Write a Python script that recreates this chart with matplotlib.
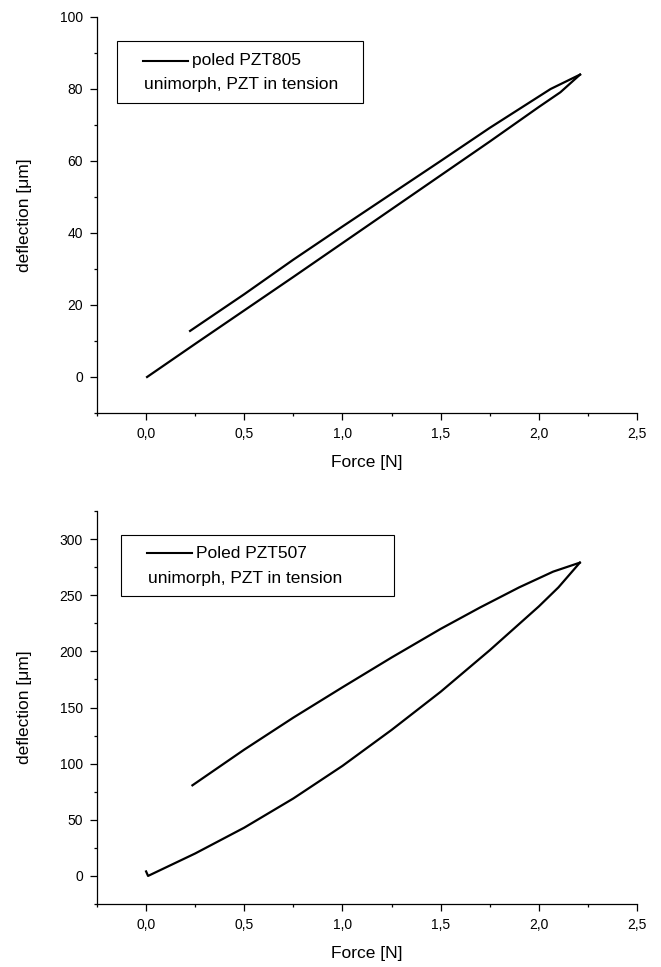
import numpy as np
import matplotlib
matplotlib.use('Agg')
from matplotlib import pyplot as plt
from matplotlib.lines import Line2D
from matplotlib.patches import Rectangle
from matplotlib.ticker import MultipleLocator

plt.rcParams['font.family'] = ['Liberation Sans', 'DejaVu Sans']

# PZT805 - loading and unloading branches
force_805_up = [0.005, 0.25, 0.5, 0.75, 1.0, 1.25, 1.5, 1.75, 2.0, 2.11, 2.21]
defl_805_up = [0.0, 9.2, 18.5, 27.8, 37.2, 46.6, 56.0, 65.4, 75.0, 79.1, 84.0]
force_805_down = [2.21, 2.06, 1.75, 1.5, 1.25, 1.0, 0.75, 0.5, 0.224]
defl_805_down = [84.0, 80.0, 69.2, 60.0, 50.9, 41.8, 32.6, 23.0, 12.8]

# PZT507 - loading and unloading branches
force_507_up = [0.0, 0.01, 0.25, 0.5, 0.75, 1.0, 1.25, 1.5, 1.75, 2.0, 2.1, 2.209]
defl_507_up = [4.0, 0.0, 20.0, 43.0, 69.0, 98.0, 130.0, 164.0, 201.0, 240.0, 257.0, 279.0]
force_507_down = [2.209, 2.073, 1.9, 1.7, 1.5, 1.25, 1.0, 0.75, 0.5, 0.236]
defl_507_down = [279.0, 271.0, 257.0, 239.0, 220.0, 194.5, 168.0, 141.0, 112.5, 80.7]

xticks = [0.0, 0.5, 1.0, 1.5, 2.0, 2.5]
xtick_labels = ['0,0', '0,5', '1,0', '1,5', '2,0', '2,5']

W, H = 661, 967
fig = plt.figure(figsize=(W / 100, H / 100), dpi=100)


def px_axes(left, top, right, bottom):
    return fig.add_axes([left / W, 1 - bottom / H, (right - left) / W, (bottom - top) / H])


def style(ax, ylim, ymajor, yminor):
    ax.set_xlim(-0.25, 2.5)
    ax.set_ylim(*ylim)
    ax.spines['top'].set_visible(False)
    ax.spines['right'].set_visible(False)
    for s in ('left', 'bottom'):
        ax.spines[s].set_linewidth(0.9)
    ax.set_xticks(xticks)
    ax.set_xticklabels(xtick_labels)
    ax.xaxis.set_minor_locator(MultipleLocator(0.25))
    ax.yaxis.set_major_locator(MultipleLocator(ymajor))
    ax.yaxis.set_minor_locator(MultipleLocator(yminor))
    ax.tick_params(which='major', direction='out', length=5, width=0.9, labelsize=10, pad=5)
    ax.tick_params(which='minor', direction='out', length=2.5, width=0.9)
    ax.set_xlabel('Force [N]', fontsize=12.5, labelpad=10)
    ax.set_ylabel('deflection [\u03bcm]', fontsize=12.5, labelpad=20)


def legend_box(left, top, right, bottom, handle_y, text2_y, label):
    # box drawn in figure pixels
    fig.patches.append(Rectangle((left / W, 1 - bottom / H), (right - left) / W, (bottom - top) / H,
                                 transform=fig.transFigure, fill=False, lw=0.8, ec='black'))
    x0 = left + 26
    fig.lines.append(Line2D([x0 / W, (x0 + 45) / W], [1 - handle_y / H] * 2,
                            transform=fig.transFigure, color='black', lw=1.5))
    fig.text((x0 + 49) / W, 1 - handle_y / H, label, fontsize=12.5, va='center', ha='left')
    fig.text((x0 + 1) / W, 1 - text2_y / H, 'unimorph, PZT in tension', fontsize=12.5,
             va='center', ha='left')


ax1 = px_axes(97, 17, 637, 413)
ax1.plot(force_805_up, defl_805_up, color='black', lw=1.6)
ax1.plot(force_805_down, defl_805_down, color='black', lw=1.6)
style(ax1, (-10, 100), 20, 10)
legend_box(117, 41, 363, 103, 61, 84, 'poled PZT805')

ax2 = px_axes(97, 511, 637, 904)
ax2.plot(force_507_up, defl_507_up, color='black', lw=1.6)
ax2.plot(force_507_down, defl_507_down, color='black', lw=1.6)
style(ax2, (-25, 325), 50, 25)
legend_box(121, 535, 394, 596, 553, 578, 'Poled PZT507')

fig.savefig('out.png', dpi=100)
